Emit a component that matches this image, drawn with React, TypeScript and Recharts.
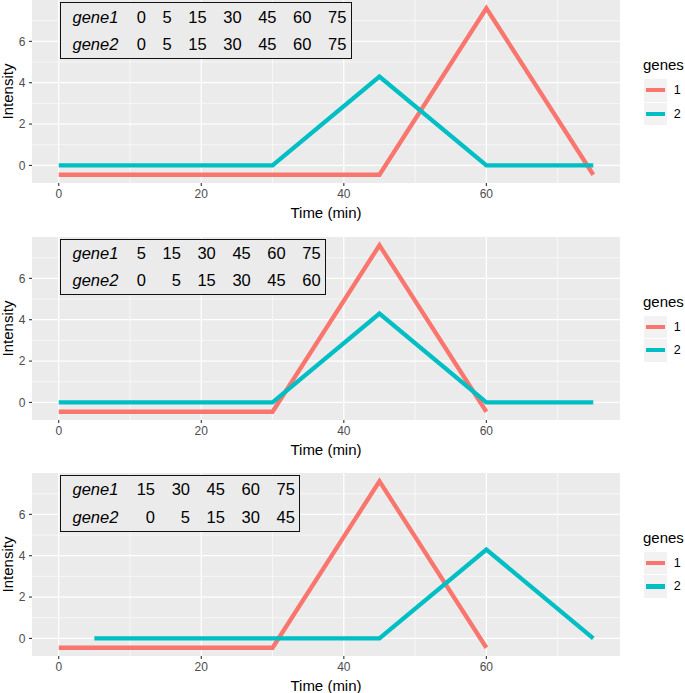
import React from "react";
import { LineChart, Line, XAxis, YAxis, CartesianGrid, Legend } from "recharts";

const FONT = '"Liberation Sans", Arial, Helvetica, sans-serif';
const RED = "#F8766D";
const CYAN = "#00BFC4";

// panel 1: genes on their own times
const p1Gene1Time = [0, 5, 15, 30, 45, 60, 75];
const p1Gene1 = [-0.45, -0.45, -0.45, -0.45, -0.45, 7.6, -0.45];
const p1Gene2Time = [0, 5, 15, 30, 45, 60, 75];
const p1Gene2 = [0, 0, 0, 0, 4.3, 0, 0];

// panel 2: gene1 shifted by one step
const p2Gene1Time = [0, 5, 15, 30, 45, 60];
const p2Gene1 = [-0.45, -0.45, -0.45, -0.45, 7.6, -0.45];
const p2Gene2Time = [0, 5, 15, 30, 45, 60, 75];
const p2Gene2 = [0, 0, 0, 0, 4.3, 0, 0];

// panel 3: gene1 shifted by two steps
const p3Gene1Time = [0, 15, 30, 45, 60];
const p3Gene1 = [-0.45, -0.45, -0.45, 7.6, -0.45];
const p3Gene2Time = [5, 15, 30, 45, 60, 75];
const p3Gene2 = [0, 0, 0, 0, 4.3, 0];

// time pairing tables
const p1Table1 = ["0", "5", "15", "30", "45", "60", "75"];
const p1Table2 = ["0", "5", "15", "30", "45", "60", "75"];
const p2Table1 = ["5", "15", "30", "45", "60", "75"];
const p2Table2 = ["0", "5", "15", "30", "45", "60"];
const p3Table1 = ["15", "30", "45", "60", "75"];
const p3Table2 = ["0", "5", "15", "30", "45"];

const xTicks = [0, 20, 40, 60];
const xMinor = [10, 30, 50, 70];
const yTicks = [0, 2, 4, 6];
const yMinor = [1, 3, 5, 7];

const toPoints = (t: number[], v: number[]) => t.map((time, i) => ({ time, value: v[i] }));

const GeneLegend = ({ payload }: any) => (
  <div style={{ fontFamily: FONT, color: "#000" }}>
    <div style={{ fontSize: 15, lineHeight: "17px", marginBottom: 6 }}>genes</div>
    {(payload || []).map((e: any) => (
      <div key={e.value} style={{ display: "flex", alignItems: "center", height: 22.5, marginBottom: 1, marginLeft: 1 }}>
        <div style={{ width: 22.7, height: 22.5, background: "#F2F2F2", display: "flex", alignItems: "center", justifyContent: "center" }}>
          <div style={{ width: 19, height: 4.3, background: e.color }} />
        </div>
        <span style={{ marginLeft: 7, fontSize: 12.5 }}>{e.value}</span>
      </div>
    ))}
  </div>
);

const cellStyle: React.CSSProperties = {
  height: 27.3,
  padding: "0 4.3px 0 12.3px",
  textAlign: "right",
  whiteSpace: "nowrap",
  lineHeight: 1,
};
const geneStyle: React.CSSProperties = {
  ...cellStyle,
  padding: "0 6px 0 11.5px",
  textAlign: "left",
  fontStyle: "italic",
};

function TimeTable({ row1, row2 }: { row1: string[]; row2: string[] }) {
  return (
    <table
      style={{
        position: "absolute",
        left: 60,
        top: 2.3,
        borderCollapse: "separate",
        borderSpacing: 0,
        border: "1.2px solid #111",
        background: "#EBEBEB",
        fontFamily: FONT,
        fontSize: 16.5,
        color: "#000",
      }}
    >
      <tbody>
        <tr>
          <td style={geneStyle}>gene1</td>
          {row1.map((v, i) => (
            <td key={i} style={cellStyle}>{v}</td>
          ))}
        </tr>
        <tr>
          <td style={geneStyle}>gene2</td>
          {row2.map((v, i) => (
            <td key={i} style={cellStyle}>{v}</td>
          ))}
        </tr>
      </tbody>
    </table>
  );
}

function Panel({ top, g1t, g1, g2t, g2, row1, row2 }: any) {
  return (
    <div style={{ position: "absolute", left: 0, top, width: 685, height: 221 }}>
      <LineChart width={685} height={221} margin={{ top: 0, right: 65, bottom: 0, left: 0 }}>
        <CartesianGrid fill="#EBEBEB" stroke="#FFFFFF" strokeWidth={0.6} verticalValues={xMinor} horizontalValues={yMinor} />
        <CartesianGrid stroke="#FFFFFF" strokeWidth={1.2} verticalValues={xTicks} horizontalValues={yTicks} />
        <XAxis
          dataKey="time"
          type="number"
          domain={[-3.75, 78.75]}
          ticks={xTicks}
          interval={0}
          allowDataOverflow
          axisLine={false}
          tickLine={{ stroke: "#333333", strokeWidth: 1.1 }}
          tickSize={3}
          tickMargin={3}
          tick={{ fill: "#4D4D4D", fontSize: 12, fontFamily: FONT }}
          height={38}
          label={{ value: "Time (min)", position: "insideBottom", offset: 3, fill: "#000", fontSize: 15, fontFamily: FONT }}
        />
        <YAxis
          type="number"
          domain={[-0.85, 8.0]}
          ticks={yTicks}
          interval={0}
          allowDataOverflow
          axisLine={false}
          tickLine={{ stroke: "#333333", strokeWidth: 1.1 }}
          tickSize={3}
          tickMargin={3.5}
          tick={{ fill: "#4D4D4D", fontSize: 12, fontFamily: FONT }}
          width={32}
          label={{ value: "Intensity", angle: -90, position: "insideLeft", offset: 8, fill: "#000", fontSize: 15, fontFamily: FONT, style: { textAnchor: "middle" } }}
        />
        <Line data={toPoints(g1t, g1)} dataKey="value" name="1" type="linear" stroke={RED} strokeWidth={4.3} dot={false} activeDot={false} isAnimationActive={false} />
        <Line data={toPoints(g2t, g2)} dataKey="value" name="2" type="linear" stroke={CYAN} strokeWidth={4.3} dot={false} activeDot={false} isAnimationActive={false} />
        <Legend layout="vertical" align="center" verticalAlign="middle" content={GeneLegend} wrapperStyle={{ left: 643, top: 56, width: 42 }} />
      </LineChart>
      <TimeTable row1={row1} row2={row2} />
    </div>
  );
}

export default function App() {
  return (
    <div style={{ position: "absolute", left: 0, top: 0, width: 685, height: 693, background: "#fff", overflow: "hidden" }}>
      <Panel top={0} g1t={p1Gene1Time} g1={p1Gene1} g2t={p1Gene2Time} g2={p1Gene2} row1={p1Table1} row2={p1Table2} />
      <Panel top={236.5} g1t={p2Gene1Time} g1={p2Gene1} g2t={p2Gene2Time} g2={p2Gene2} row1={p2Table1} row2={p2Table2} />
      <Panel top={472.7} g1t={p3Gene1Time} g1={p3Gene1} g2t={p3Gene2Time} g2={p3Gene2} row1={p3Table1} row2={p3Table2} />
    </div>
  );
}
